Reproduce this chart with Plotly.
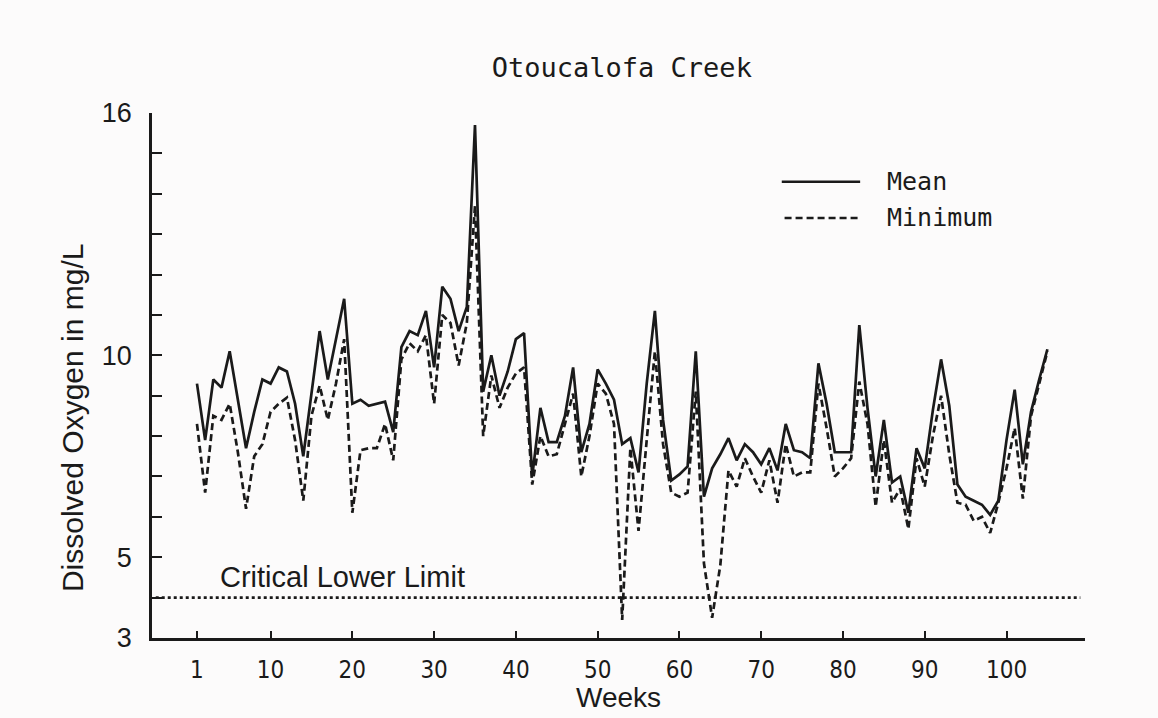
import plotly.graph_objects as go

weeks = list(range(1, 106))
mean_do = [9.3, 7.9, 9.4, 9.2, 10.1, 8.9, 7.7, 8.6, 9.4, 9.3,
           9.7, 9.6, 8.8, 7.5, 9.0, 10.6, 9.4, 10.4, 11.4, 8.8,
           8.9, 8.75, 8.8, 8.85, 8.1, 10.2, 10.6, 10.5, 11.1, 9.7,
           11.7, 11.4, 10.6, 11.2, 15.7, 9.1, 10.0, 9.0, 9.6, 10.4,
           10.55, 7.0, 8.7, 7.85, 7.85, 8.5, 9.7, 7.6, 8.3, 9.65,
           9.3, 8.9, 7.8, 7.95, 7.1, 9.3, 11.1, 8.4, 6.9, 7.05,
           7.25, 10.1, 6.5, 7.2, 7.55, 7.95, 7.4, 7.8, 7.6, 7.3,
           7.7, 7.15, 8.3, 7.65, 7.6, 7.45, 9.8, 8.8, 7.6, 7.6,
           7.6, 10.75, 8.7, 7.0, 8.4, 6.85, 7.0, 6.1, 7.7, 7.2,
           8.65, 9.9, 8.75, 6.8, 6.5, 6.4, 6.3, 6.05, 6.4, 7.9,
           9.15, 7.3, 8.6, 9.4, 10.15]
min_do = [8.3, 6.6, 8.5, 8.4, 8.8, 7.6, 6.2, 7.5, 7.8, 8.6,
          8.8, 8.95, 7.9, 6.4, 8.5, 9.25, 8.4, 9.3, 10.4, 6.1,
          7.65, 7.7, 7.7, 8.3, 7.4, 9.9, 10.3, 10.1, 10.5, 8.8,
          11.0, 10.8, 9.75, 10.8, 13.7, 8.0, 9.5, 8.7, 9.2, 9.55,
          9.7, 6.8, 8.0, 7.5, 7.55, 8.3, 9.05, 7.0, 8.0, 9.3,
          9.05, 8.3, 3.45, 7.7, 5.65, 7.9, 10.1, 7.8, 6.6, 6.5,
          6.6, 9.1, 4.85, 3.5, 4.8, 7.15, 6.75, 7.45, 7.0, 6.6,
          7.4, 6.35, 7.8, 7.0, 7.1, 7.1, 9.3, 8.2, 7.0, 7.2,
          7.45, 9.35, 8.3, 6.25, 7.9, 6.35, 6.7, 5.7, 7.45, 6.75,
          8.0, 9.0, 7.55, 6.35, 6.3, 5.9, 6.0, 5.6, 6.35, 7.2,
          8.2, 6.45, 8.5, 9.3, 10.1]

x_tick_vals = [1, 10, 20, 30, 40, 50, 60, 70, 80, 90, 100]
x_tick_text = ["1", "10", "20", "30", "40", "50", "60", "70", "80", "90", "100"]
y_tick_vals = list(range(3, 17))
y_tick_text = ["3", "", "5", "", "", "", "", "10", "", "", "", "", "", "16"]
CRITICAL_LIMIT = 4.0

INK = "#1a1a1a"
PAPER = "#fcfbfb"
SANS = "Liberation Sans, Arial, sans-serif"
NARROW = "Liberation Sans Narrow, DejaVu Sans Condensed, Liberation Sans, Arial, sans-serif"
MONO = "DejaVu Sans Mono, Liberation Mono, monospace"

fig = go.Figure()
fig.add_trace(go.Scatter(x=weeks, y=mean_do, mode="lines", name="Mean",
                         line=dict(color=INK, width=2.7), showlegend=False))
fig.add_trace(go.Scatter(x=weeks, y=min_do, mode="lines", name="Minimum",
                         line=dict(color=INK, width=2.7, dash="7px,4px"), showlegend=False))

# critical lower limit (dotted)
fig.add_shape(type="line", xref="paper", yref="y", x0=0.004, x1=0.995,
              y0=CRITICAL_LIMIT, y1=CRITICAL_LIMIT,
              line=dict(color=INK, width=2.8, dash="dot"))
fig.add_annotation(x=3.6, y=CRITICAL_LIMIT + 0.5, xref="x", yref="y", text="Critical Lower Limit",
                   showarrow=False, xanchor="left", yanchor="middle",
                   font=dict(family=SANS, size=29, color=INK))

# legend (drawn manually to match long sample lines)
fig.add_shape(type="line", xref="paper", yref="paper", x0=0.675, x1=0.759, y0=0.869, y1=0.869,
              line=dict(color=INK, width=2.6))
fig.add_shape(type="line", xref="paper", yref="paper", x0=0.678, x1=0.758, y0=0.800, y1=0.800,
              line=dict(color=INK, width=2.6, dash="7px,4px"))
fig.add_annotation(x=0.7856, y=0.869, xref="paper", yref="paper", text="Mean", showarrow=False,
                   xanchor="left", yanchor="middle", font=dict(family=MONO, size=25, color=INK))
fig.add_annotation(x=0.7856, y=0.800, xref="paper", yref="paper", text="Minimum", showarrow=False,
                   xanchor="left", yanchor="middle", font=dict(family=MONO, size=25, color=INK))

# axis titles
fig.add_annotation(x=-0.0857, y=0.419, xref="paper", yref="paper", text="Dissolved Oxygen in mg/L",
                   showarrow=False, textangle=-90, xanchor="center", yanchor="middle",
                   font=dict(family=SANS, size=30, color=INK))
fig.add_annotation(x=0.5, y=-0.113, xref="paper", yref="paper", text="Weeks",
                   showarrow=False, xanchor="center", yanchor="middle",
                   font=dict(family=SANS, size=28, color=INK))

fig.update_layout(
    width=1158, height=718,
    margin=dict(l=152, r=73, t=113, b=80),
    paper_bgcolor=PAPER, plot_bgcolor=PAPER,
    title=dict(text="Otoucalofa Creek", x=0.537, xanchor="center", y=1 - 68 / 718, yanchor="middle",
               font=dict(family=MONO, size=27, color=INK)),
    xaxis=dict(range=[-4.5, 109.6], showgrid=False, zeroline=False,
               showline=True, linecolor=INK, linewidth=2.5,
               ticks="inside", ticklen=7, tickwidth=2, tickcolor=INK,
               tickvals=x_tick_vals, ticktext=x_tick_text, ticklabelstandoff=8,
               tickfont=dict(family=NARROW, size=24, color=INK)),
    yaxis=dict(range=[3, 16], showgrid=False, zeroline=False,
               showline=True, linecolor=INK, linewidth=2.5,
               ticks="inside", ticklen=10, tickwidth=2, tickcolor=INK,
               tickvals=y_tick_vals, ticktext=y_tick_text, ticklabelstandoff=12,
               tickfont=dict(family=SANS, size=27, color=INK)),
)

fig.write_html("out.html")
